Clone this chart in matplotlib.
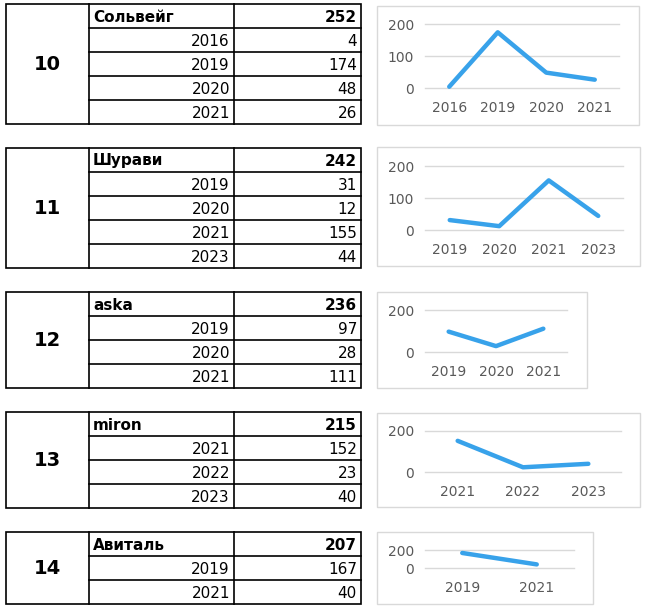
#!/usr/bin/env python3

import matplotlib.pyplot as plt
from matplotlib.patches import Rectangle

plt.rcParams["font.family"] = ["DejaVu Sans"]

ranks = [10, 11, 12, 13, 14]
names = ["Сольвейг", "Шурави", "aska", "miron", "Авиталь"]
totals = [252, 242, 236, 215, 207]

years_10 = ["2016", "2019", "2020", "2021"]
counts_10 = [4, 174, 48, 26]
years_11 = ["2019", "2020", "2021", "2023"]
counts_11 = [31, 12, 155, 44]
years_12 = ["2019", "2020", "2021"]
counts_12 = [97, 28, 111]
years_13 = ["2021", "2022", "2023"]
counts_13 = [152, 23, 40]
years_14 = ["2019", "2021"]
counts_14 = [167, 40]

all_years = [years_10, years_11, years_12, years_13, years_14]
all_counts = [counts_10, counts_11, counts_12, counts_13, counts_14]
y_ticks = [[0, 100, 200], [0, 100, 200], [0, 200], [0, 200], [0, 200]]

W, H = 646, 611
LINE = "#38A2EA"
GRID = "#D9D9D9"
LABEL = "#595959"

# layout in pixels
table_tops = [4, 148, 292, 412, 532]
row_h = 24
col_x = [6, 89, 234, 361]
boxes = [(377, 6, 639, 125), (377, 147, 640, 266), (377, 292, 587, 388),
         (377, 413, 640, 507), (377, 532, 593, 604)]
plot_x = [(425, 619), (425, 623), (425, 567), (425, 621), (425, 574)]
plot_y = [(88, 24), (230, 166), (352, 310), (472, 431), (568, 550)]


def frac(x0, x1, y_bottom, y_top):
    return [x0 / W, 1 - y_bottom / H, (x1 - x0) / W, (y_bottom - y_top) / H]


def main():
    fig = plt.figure(figsize=(W / 100, H / 100), dpi=100)
    bg = fig.add_axes([0, 0, 1, 1])
    bg.set_xlim(0, W)
    bg.set_ylim(H, 0)
    bg.axis("off")

    for i in range(len(ranks)):
        top = table_tops[i]
        n = len(all_years[i]) + 1
        bottom = top + n * row_h
        lw = 1.2
        bg.add_patch(Rectangle((col_x[0], top), col_x[3] - col_x[0], n * row_h,
                               fill=False, edgecolor="black", lw=lw))
        bg.plot([col_x[1], col_x[1]], [top, bottom], color="black", lw=lw)
        bg.plot([col_x[2], col_x[2]], [top, bottom], color="black", lw=lw)
        for r in range(1, n):
            y = top + r * row_h
            bg.plot([col_x[1], col_x[3]], [y, y], color="black", lw=lw)

        bg.text((col_x[0] + col_x[1]) / 2, (top + bottom) / 2 + 1, str(ranks[i]),
                ha="center", va="center", fontsize=14, fontweight="bold")
        bg.text(col_x[1] + 4, top + row_h / 2 + 1, names[i], ha="left", va="center",
                fontsize=11, fontweight="bold")
        bg.text(col_x[3] - 4, top + row_h / 2 + 1, str(totals[i]), ha="right",
                va="center", fontsize=11, fontweight="bold")
        for r, (yr, c) in enumerate(zip(all_years[i], all_counts[i])):
            yc = top + (r + 1.5) * row_h + 1
            bg.text(col_x[2] - 4, yc, yr, ha="right", va="center", fontsize=11)
            bg.text(col_x[3] - 4, yc, str(c), ha="right", va="center", fontsize=11)

        bx0, by0, bx1, by1 = boxes[i]
        bg.add_patch(Rectangle((bx0, by0), bx1 - bx0, by1 - by0, fill=False,
                               edgecolor=GRID, lw=1))

        ax = fig.add_axes(frac(plot_x[i][0], plot_x[i][1], plot_y[i][0], plot_y[i][1]))
        xs = list(range(len(all_years[i])))
        ax.plot(xs, all_counts[i], color=LINE, lw=3.2, solid_capstyle="round",
                clip_on=False, zorder=3)
        ax.set_xlim(-0.5, len(xs) - 0.5)
        ax.set_ylim(0, 200)
        ax.set_yticks(y_ticks[i])
        ax.set_xticks(xs)
        ax.set_xticklabels(all_years[i])
        for t in y_ticks[i]:
            ax.axhline(t, color=GRID, lw=1, zorder=1, clip_on=False)
        ax.patch.set_alpha(0)
        for s in ax.spines.values():
            s.set_visible(False)
        ax.tick_params(axis="both", length=0, labelsize=10, labelcolor=LABEL)
        ax.tick_params(axis="y", pad=8)
        ax.tick_params(axis="x", pad=9)

    fig.savefig("out.png", dpi=100)


if __name__ == "__main__":
    main()
